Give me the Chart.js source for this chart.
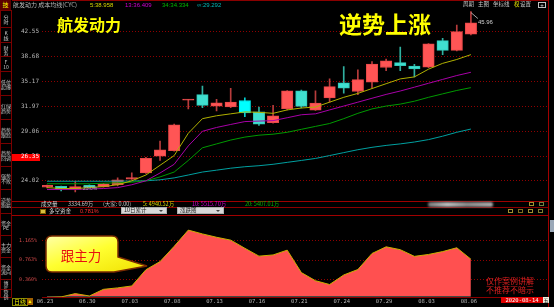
<!DOCTYPE html>
<html><head><meta charset="utf-8">
<script src="https://cdn.jsdelivr.net/npm/chart.js@4.4.1/dist/chart.umd.min.js"></script>
<style>
html,body{margin:0;padding:0;background:#000;}
body{width:554px;height:307px;overflow:hidden;position:relative;font-family:'Liberation Sans','Noto Sans CJK SC',sans-serif;}
.t{position:absolute;white-space:nowrap;line-height:1;}
.cjk{font-family:'Noto Sans CJK SC',sans-serif;}
canvas{position:absolute;left:0;}
.hl{position:absolute;height:1px;background:#8a0000;}
.vl{position:absolute;width:1px;background:#8a0000;}
.tab{position:absolute;left:0;width:12px;box-sizing:border-box;border:1px solid #7a0000;display:flex;align-items:center;justify-content:center;text-align:center;font-family:'Noto Sans CJK SC',sans-serif;font-size:5px;line-height:5px;color:#c8c8c8;}
.dd{position:absolute;height:7px;background:#d8d8d8;box-sizing:border-box;border:1px solid #b0b0b0;font-family:'Noto Sans CJK SC',sans-serif;font-size:5.5px;line-height:5px;color:#202020;padding-left:2px;}
.dd i{position:absolute;right:3px;top:2px;width:0;height:0;border-left:2px solid transparent;border-right:2px solid transparent;border-top:2px solid #404040;}
.ic{position:absolute;width:5px;height:4px;box-sizing:border-box;border:1px solid #a09030;}
</style></head><body>
<canvas id="pc" width="554" height="201" style="top:0;width:554px;height:201px"></canvas>
<canvas id="ic" width="554" height="92" style="top:215px;width:554px;height:92px"></canvas>
<div id="ov"></div>
<script>
// ---------- data ----------
const dates  = ['06.23','06.24','06.29','06.30','07.01','07.02','07.03','07.06','07.07','07.08','07.09','07.10','07.13','07.14','07.15','07.16','07.17','07.20','07.21','07.22','07.23','07.24','07.27','07.28','07.29','07.30','07.31','08.03','08.04','08.05','08.06'];
const opens  = [23.43,23.52,23.23,23.60,23.49,23.66,24.17,24.75,26.39,26.95,32.73,33.42,31.99,31.87,32.68,31.28,30.03,31.67,33.92,31.48,33.00,34.98,33.83,35.07,37.08,37.78,37.30,37.12,41.10,39.59,42.14];
const highs  = [23.64,23.55,23.98,23.65,23.78,24.30,24.77,26.29,27.98,29.85,32.76,34.55,32.84,34.25,33.00,31.87,32.08,33.95,34.00,33.92,35.50,37.22,36.75,37.92,38.29,40.10,37.54,40.65,41.47,43.62,45.96];
const lows   = [23.38,23.10,23.02,23.33,23.45,23.55,24.15,24.70,25.97,26.90,31.64,31.79,31.40,31.79,30.71,29.69,29.95,31.52,31.75,31.45,32.47,33.62,33.42,34.25,36.62,36.62,35.77,37.05,38.96,39.50,42.00];
const closes = [23.60,23.23,23.49,23.38,23.75,24.11,24.32,26.17,27.06,29.77,32.75,32.08,32.39,32.47,31.17,29.84,30.82,33.92,31.96,32.35,34.46,34.25,35.41,37.58,38.06,37.36,36.89,40.59,39.59,42.56,44.01];
const ma5    = [23.40,23.32,23.32,23.40,23.49,23.66,24.02,24.56,25.49,26.46,28.82,30.48,30.82,31.05,31.28,31.23,31.11,31.52,31.75,31.87,32.47,33.08,33.58,34.21,34.85,35.50,35.77,36.85,37.68,38.24,38.96];
const ma13   = [23.23,23.23,23.23,23.28,23.32,23.40,23.66,24.02,24.75,25.59,27.46,29.04,29.47,29.81,30.14,30.20,30.25,30.59,30.94,31.05,31.52,31.99,32.47,32.96,33.45,33.89,34.39,34.91,35.43,35.96,36.41];
const ma34   = [23.75,23.75,23.75,23.75,23.80,23.84,23.89,24.02,24.38,24.84,25.97,27.26,27.67,28.08,28.40,28.61,28.72,28.93,29.26,29.59,29.92,30.48,31.11,31.64,31.99,32.23,32.59,33.08,33.52,33.96,34.33];
const maInf  = [23.98,23.98,23.98,23.98,23.98,23.99,24.00,24.02,24.11,24.29,24.56,24.84,25.02,25.21,25.35,25.45,25.59,25.78,25.97,26.17,26.46,26.76,27.06,27.31,27.51,27.67,27.87,28.13,28.50,28.93,29.29];
const flow   = [-0.02,-0.01,0.06,0.01,0.15,0.18,0.22,0.56,0.73,1.05,1.39,1.31,1.24,1.18,1.01,0.845,0.87,0.97,0.50,0.33,0.25,0.45,0.565,0.90,1.04,0.98,0.84,0.88,0.94,1.02,0.781];
const priceTicks = [24.02,26.35,29.06,31.97,35.17,38.68,42.55];
const markPrice  = 26.35;
const flowTicks  = [0.360,0.763,1.165];
const dateTicks  = [0,3,6,9,12,15,18,21,24,27,30];
const highlightIdx = 14;

// ---------- styles ----------
const UP='#ff5555', UPB='#e84848', DN='#40e0d0', DNB='#30c8b8', HI='#00ffff';
const isUp = closes.map((c,i)=>c>=opens[i]);
const bodyFill = isUp.map((u,i)=> i===highlightIdx?HI:(u?UP:DN));
const bodyBorder = isUp.map((u,i)=> i===highlightIdx?'#00e8e8':(u?UPB:DNB));
const wickCol = isUp.map((u,i)=> i===highlightIdx?'#00d0d0':(u?'#b83c3c':'#30b0a0'));
const XMIN=-0.354, XMAX=35.456;
const xy = arr => arr.map((v,i)=>({x:i,y:v}));

const markPlugin = {id:'mark', beforeDraw(chart){
  const y = chart.scales.y.getPixelForValue(markPrice);
  const c = chart.ctx; c.save(); c.fillStyle='#ff0000'; c.fillRect(12, Math.round(y)-3, 28, 7); c.restore();
}};

const pc = new Chart(document.getElementById('pc'), {
  data:{datasets:[
    {type:'line',data:xy(ma5),borderColor:'#b0b000',borderWidth:1,pointRadius:0,tension:0,order:0},
    {type:'line',data:xy(ma13),borderColor:'#a800a8',borderWidth:1,pointRadius:0,tension:0,order:0},
    {type:'line',data:xy(ma34),borderColor:'#009a00',borderWidth:1,pointRadius:0,tension:0,order:0},
    {type:'line',data:xy(maInf),borderColor:'#00a0a0',borderWidth:1,pointRadius:0,tension:0,order:0},
    {type:'bar',data:opens.map((o,i)=>({x:i,y:[o,closes[i]]})),backgroundColor:bodyFill,borderColor:bodyBorder,borderWidth:1,borderSkipped:false,
      grouped:false,barPercentage:1,categoryPercentage:1,maxBarThickness:12,minBarLength:1,order:1},
    {type:'bar',data:lows.map((l,i)=>({x:i,y:[l,highs[i]]})),backgroundColor:wickCol,borderWidth:0,
      grouped:false,barPercentage:1,categoryPercentage:1,maxBarThickness:1,order:2}
  ]},
  options:{responsive:false,animation:false,events:[],
    layout:{padding:{left:0,right:6,top:10,bottom:1}},
    plugins:{legend:{display:false},tooltip:{enabled:false}},
    scales:{
      x:{type:'linear',min:XMIN,max:XMAX,display:false,bounds:'data',offset:false,grid:{offset:false}},
      y:{type:'logarithmic',min:22.80,max:46.23,bounds:'data',
        afterFit:s=>{s.width=42;},
        afterBuildTicks:s=>{s.ticks=priceTicks.map(v=>({value:v}));},
        ticks:{autoSkip:false,padding:3,font:{family:'DejaVu Sans Mono',size:6},
          color:ctx=>(ctx.tick&&ctx.tick.value===markPrice)?'#ffffff':'#b8b8b8',
          callback:v=>Number(v).toFixed(2)},
        grid:{color:'#900000',drawTicks:false,lineWidth:1},
        border:{display:false,dash:[1,2]}}
    }},
  plugins:[markPlugin]
});

const ic = new Chart(document.getElementById('ic'), {
  type:'line',
  data:{datasets:[{data:xy(flow),fill:{target:'origin',above:'#ff5050',below:'#40e0d0'},borderColor:'#c8b000',borderWidth:1,pointRadius:0,tension:0}]},
  options:{responsive:false,animation:false,events:[],
    layout:{padding:{left:0,right:6,top:0,bottom:0}},
    plugins:{legend:{display:false},tooltip:{enabled:false}},
    scales:{
      x:{type:'linear',min:XMIN,max:XMAX,bounds:'data',offset:false,
        afterFit:s=>{s.height=10;},
        afterBuildTicks:s=>{s.ticks=dateTicks.map(v=>({value:v}));},
        ticks:{autoSkip:false,maxRotation:0,padding:1,labelOffset:-2,font:{family:'DejaVu Sans Mono',size:5.5},color:'#b8b8b8',
          callback:v=>dates[v]||''},
        grid:{display:false,drawTicks:false},
        border:{display:true,color:'#8a0000'}},
      y:{min:-0.011,max:1.539,bounds:'data',
        afterFit:s=>{s.width=42;},
        afterBuildTicks:s=>{s.ticks=flowTicks.map(v=>({value:v}));},
        ticks:{autoSkip:false,padding:5,font:{family:'DejaVu Sans Mono',size:5},color:'#d04848',
          callback:v=>Number(v).toFixed(3)+'%'},
        grid:{color:'#900000',drawTicks:false},
        border:{display:false,dash:[1,2]}}
    }}
});

// ---------- overlays ----------
const ov = document.getElementById('ov');
function add(html){ ov.insertAdjacentHTML('beforeend', html); }
function txt(x,y,s,color,size,cls,extra){ add(`<div class="t ${cls||''}" style="left:${x}px;top:${y}px;color:${color};font-size:${size}px;${extra||''}">${s}</div>`); }

// frame lines
add('<div class="hl" style="left:12px;top:0;width:537px"></div>');
add('<div class="hl" style="left:12px;top:201px;width:537px;background:#a00000"></div>');
add('<div class="hl" style="left:12px;top:207px;width:537px"></div>');
add('<div class="hl" style="left:12px;top:215px;width:537px;background:#a00000"></div>');
add('<div class="vl" style="left:548px;top:0;height:307px;background:#a00000"></div>');

// sidebar
add('<div class="t cjk" style="left:0;top:0;width:11px;height:10px;background:#5a0000;color:#ffff00;font-size:6px;line-height:10px;text-align:center">技</div>');
const sideTabs = ['分时','K线','财务','F10','低位起爆','红绿趋势','趋势跟踪','趋势回调','强势不败','逆势跑赢','资金PE','主力资金','资金流向','博弈','营销'];
const sideEdges = [10,27,42,56,71,95,119,143,166,189,213,235,257,279,289,297];
sideTabs.forEach((s,i)=>{
  let h;
  if (s==='F10') h='F<br>10';
  else if (s.length<=2) h=s.split('').join('<br>');
  else h=s.slice(0,2)+'<br>'+s.slice(2);
  add(`<div class="tab" style="top:${sideEdges[i]}px;height:${sideEdges[i+1]-sideEdges[i]+1}px">${h}</div>`);
});
add('<div class="t cjk" style="left:12px;top:298px;color:#e8e800;font-size:6px;border:1px solid #8a8a00;padding:0 1px">日线</div>');
add('<div class="t" style="left:27px;top:298px;width:6px;height:7px;background:#a06000;color:#ffff00;font-size:5px;line-height:7px;text-align:center">▲</div>');

// header
txt(13,2,'航发动力 成本均线(CYC)','#b8b8b8',6,'cjk');
txt(90,2,'5:38.958','#d8d800',6,'');
txt(125,2,'13:36.409','#d000d0',6,'');
txt(162,2,'34:34.334','#00b800',6,'');
txt(197,2,'∞:29.292','#00b8b8',6,'');
txt(463,2,'周期','#c8c8c8',5.5,'cjk');
txt(478,2,'主图','#c8c8c8',5.5,'cjk');
txt(493,2,'坐标线','#c8c8c8',5.5,'cjk');
txt(514,2,'权','#e8e800',5.5,'cjk');
txt(520,2,'设置','#c8c8c8',5.5,'cjk');
add('<div class="t" style="left:538px;top:2px;width:8px;height:6px;box-sizing:border-box;border:1px solid #c0c0c0;color:#e0e0e0;font-size:6px;line-height:4px;text-align:center">+</div>');

// big titles
txt(57,16,'航发动力','#ffff00',16,'cjk','font-weight:bold');
txt(339,12,'逆势上涨','#ffff00',23,'cjk','font-weight:bold');

// max high annotation from scales
(function(){
  const iMax = highs.indexOf(Math.max(...highs));
  const px = pc.scales.x.getPixelForValue(iMax), py = pc.scales.y.getPixelForValue(highs[iMax]);
  add(`<svg style="position:absolute;left:0;top:0" width="554" height="307"><line x1="${px}" y1="${py+1}" x2="${px+7}" y2="${py+7}" stroke="#d0d0d0" stroke-width="0.8"/></svg>`);
  txt(px+7, py+7, highs[iMax].toFixed(2), '#d0d0d0', 6, '');
})();
txt(83,186,'23.0%','#a8a8a8',5,'');

// volume row
txt(41,202,'成交量','#d0d0d0',5.5,'cjk');
txt(68,202,'3334.69万','#c0c0c0',5.5,'cjk');
txt(103,202,'(大家: 0.00)','#c0c0c0',5.5,'cjk');
txt(143,202,'5: 4940.52万','#d8d800',5.5,'cjk');
txt(192,202,'10: 5515.70万','#d000d0',5.5,'cjk');
txt(245,202,'20: 5407.01万','#00b800',5.5,'cjk');
add('<div style="position:absolute;left:428px;top:202px;width:65px;height:5px;background:linear-gradient(90deg,#777,#bbb 30%,#888 60%,#aaa);filter:blur(1.2px);border-radius:2px"></div>');
add('<div class="ic" style="left:529px;top:202px"></div><div class="ic" style="left:539px;top:202px;border-color:#708040"></div>');
add('<div class="ic" style="left:508px;top:209px"></div><div class="ic" style="left:518px;top:209px;border-color:#807020"></div><div class="ic" style="left:528px;top:209px"></div><div class="ic" style="left:538px;top:209px;border-color:#808030"></div>');
add('<div style="position:absolute;left:550px;top:220px;width:4px;height:12px;background:#9aa8b8"></div>');

// indicator row
add('<div style="position:absolute;left:40px;top:209px;width:6px;height:5px;background:#d8c040;border:1px solid #806000;box-sizing:border-box"></div>');
txt(49,209,'多空资金','#d8d8d8',5.5,'cjk');
txt(80,209,'0.781%','#ff3030',5.5,'');
add('<div class="dd" style="left:121px;top:207px;width:46px">10日累计<i></i></div>');
add('<div class="dd" style="left:177px;top:207px;width:47px">涨跌图<i></i></div>');

// callout
add(`<svg style="position:absolute;left:0;top:0" width="554" height="307">
<defs><linearGradient id="g" x1="0" y1="0" x2="1" y2="1"><stop offset="0" stop-color="#ffffa8"/><stop offset="0.45" stop-color="#ffff30"/><stop offset="1" stop-color="#f0e000"/></linearGradient></defs>
<path d="M52,236 H112 Q118,236 118,242 V257 L147,266 L114,272 H52 Q46,272 46,266 V242 Q46,236 52,236 Z" fill="url(#g)" stroke="#7a2a00" stroke-width="1.5"/>
<text x="81" y="255" text-anchor="middle" dominant-baseline="central" font-family="Noto Sans CJK SC" font-size="13.5" fill="#e81010">跟主力</text>
</svg>`);

// disclaimer
txt(486,277,'仅作案例讲解','#e02020',8,'cjk');
txt(486,286,'不推荐不暗示','#e02020',8,'cjk');
add('<div class="t" style="left:501px;top:297px;width:42px;height:6px;background:#e00000;color:#ffffff;font-size:5.5px;line-height:6px;text-align:center;font-family:DejaVu Sans Mono">2020-08-14</div>');
add('<div class="t cjk" style="left:543px;top:297px;width:6px;height:6px;background:#f0f0e0;color:#000;font-size:5px;line-height:6px;text-align:center">五</div>');
</script>
</body></html>
